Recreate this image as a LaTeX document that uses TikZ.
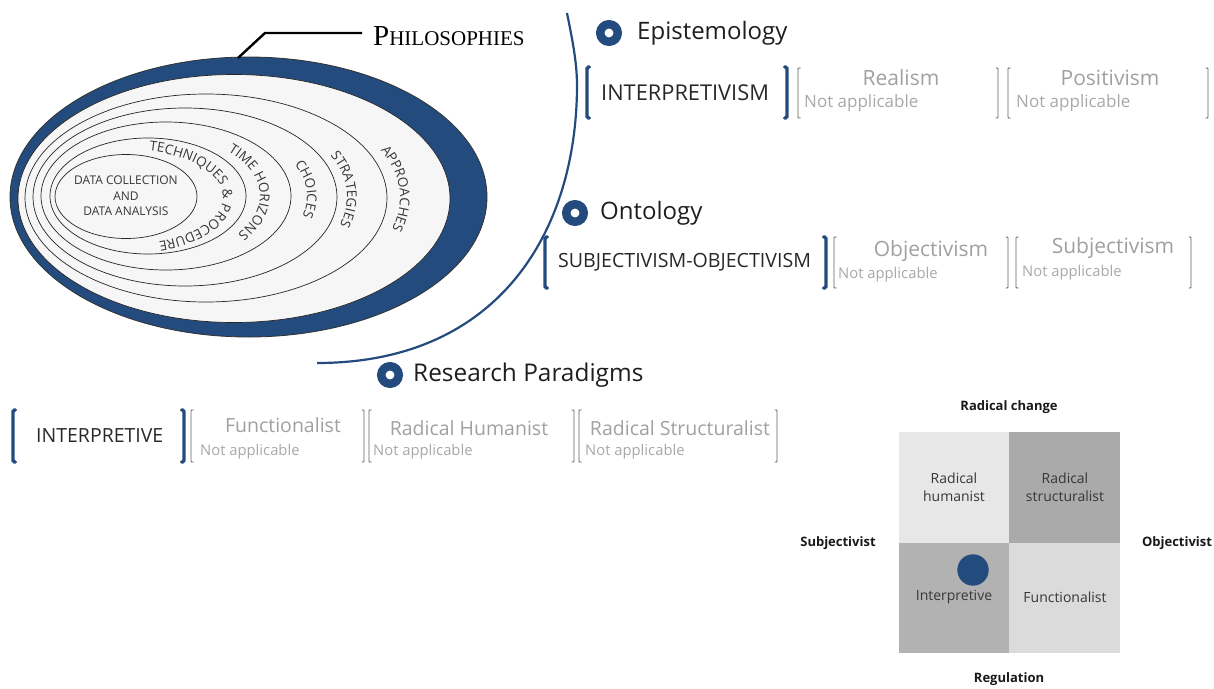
\documentclass[tikz,border=0pt]{standalone}
\usepackage{fontspec}
\setmainfont{Open Sans}
\newfontfamily\capsfont{Liberation Serif}
\usetikzlibrary{decorations.text}

\definecolor{onionblue}{RGB}{35,75,125}
\definecolor{ringfill}{RGB}{246,246,246}
\definecolor{ringtext}{RGB}{55,55,55}
\definecolor{headink}{RGB}{30,30,30}
\definecolor{inktext}{RGB}{40,40,40}
\definecolor{optgray}{RGB}{160,160,160}
\definecolor{nagray}{RGB}{168,168,168}
\definecolor{brkgray}{RGB}{95,95,95}
\definecolor{qtl}{RGB}{231,231,231}
\definecolor{qtr}{RGB}{170,170,170}
\definecolor{qbl}{RGB}{178,178,178}
\definecolor{qbr}{RGB}{219,219,219}
\definecolor{celltext}{RGB}{55,55,55}

\newcommand\sz[1]{\fontsize{#1}{#1}\selectfont}

% left / right square brackets: style, x, top, bottom
\newcommand\openbrk[4]{\draw[#1] (#2+2.5,#3) -- (#2,#3) -- (#2,#4) -- (#2+2.5,#4);}
\newcommand\closebrk[4]{\draw[#1] (#2-2.5,#3) -- (#2,#3) -- (#2,#4) -- (#2-2.5,#4);}

\tikzset{
  ringline/.style={draw=black!85, line width=0.7pt},
  ringlabel/.style={decorate, decoration={text along path, text align=center, text color=ringtext}},
  heading/.style={anchor=west, inner sep=0pt, text=headink, font=\sz{24}},
  bullet/.style={circle, draw=onionblue, fill=white, line width=8.5pt, minimum size=17.5pt, inner sep=0pt},
  chosen/.style={anchor=west, inner sep=0pt, text=inktext},
  option/.style={inner sep=0pt, text=optgray},
  na/.style={anchor=west, inner sep=0pt, text=nagray},
  bluebrk/.style={draw=onionblue, line width=3.4pt, line cap=round, rounded corners=1.5pt},
  graybrk/.style={draw=brkgray, line width=0.9pt, rounded corners=0.8pt},
  cell/.style={inner sep=0pt, text=celltext, align=center, font=\fontsize{14}{18}\selectfont},
  axislabel/.style={inner sep=0pt, text=black!90, font=\bfseries\sz{13}},
}

\begin{document}
\begin{tikzpicture}[x=1pt,y=-1pt]
\useasboundingbox (0,0) rectangle (1214,688);

% ---------- the onion ----------
\filldraw[fill=onionblue, draw=black!80, line width=0.8pt] (248.5,197) ellipse [x radius=238.5, y radius=140];
\filldraw[fill=ringfill, ringline] (234,198.5) ellipse [x radius=216, y radius=124];
\draw[ringline] (206,198) ellipse [x radius=181, y radius=104];
\draw[ringline] (185,197) ellipse [x radius=152, y radius=89];
\draw[ringline] (166,196) ellipse [x radius=125, y radius=74];
\draw[ringline] (148,196) ellipse [x radius=98, y radius=58];
\draw[ringline] (126,196.5) ellipse [x radius=71, y radius=42];

\node[align=center, inner sep=0pt, text=ringtext, font=\fontsize{12}{15.5}\selectfont] (core) at (126,196)
  {DATA COLLECTION\\AND\\DATA ANALYSIS};

\path[ringlabel, decoration={text={|\sz{13.5}|TECHNIQUES {\&} PROCEDURE}}]
  (125.1,150.1) arc[start angle=-93, end angle=87, x radius=93, y radius=47];
\path[ringlabel, decoration={text={|\sz{13.5}|TIME HORIZONS}}]
  (144.2,133.1) arc[start angle=-93, end angle=87, x radius=110, y radius=63];
\path[ringlabel, decoration={text={|\sz{13.5}|CHOICES}}]
  (160.7,118.6) arc[start angle=-93, end angle=87, x radius=139, y radius=78];
\path[ringlabel, decoration={text={|\sz{13.5}|STRATEGIES}}]
  (181.8,104.1) arc[start angle=-93, end angle=87, x radius=157, y radius=93];
\path[ringlabel, decoration={text={|\sz{13.5}|APPROACHES}}]
  (200.1,90.2) arc[start angle=-93, end angle=87, x radius=190, y radius=108];

% ---------- title with leader ----------
\node[anchor=base west, inner sep=0pt, font=\capsfont, text=black] (phil) at (373,45)
  {{\sz{29}P}{\sz{21}HILOSOPHIES}};
\coordinate (leadstart) at (362,33);
\coordinate (knee) at (265,33);
\coordinate (tip) at (238,58);
\draw[line width=2.4pt] (leadstart) -- (knee) -- (tip);

% ---------- dividing arc ----------
\draw[onionblue, line width=2.2pt]
  (567,13) .. controls (572,38) and (577,62) .. (577,85)
  .. controls (577,230) and (500,363) .. (317,363);

% ---------- Epistemology ----------
\node[bullet] (b1) at (609,33) {};
\node[heading] (epi) at (637,33) {Epistemology};
\openbrk{bluebrk}{587}{67}{118}
\node[chosen, font=\sz{21.8}] (epiA) at (601,93) {INTERPRETIVISM};
\closebrk{bluebrk}{787}{67}{118}
\openbrk{graybrk}{798}{68}{118}
\node[option, font=\sz{21}] (epiB) at (901,78) {Realism};
\node[na, font=\sz{17}] (epiBn) at (804,103) {Not applicable};
\closebrk{graybrk}{998}{68}{118}
\openbrk{graybrk}{1008}{68}{118}
\node[option, font=\sz{21}] (epiC) at (1110,78) {Positivism};
\node[na, font=\sz{17}] (epiCn) at (1016,103) {Not applicable};
\closebrk{graybrk}{1208}{68}{118}

% ---------- Ontology ----------
\node[bullet] (b2) at (575,213) {};
\node[heading] (ont) at (600,213) {Ontology};
\openbrk{bluebrk}{545}{237}{288}
\node[chosen, font=\sz{19.6}] (ontA) at (558,262) {SUBJECTIVISM-OBJECTIVISM};
\closebrk{bluebrk}{826}{237}{288}
\openbrk{graybrk}{834}{237}{288}
\node[option, font=\sz{21}] (ontB) at (931,251) {Objectivism};
\node[na, font=\sz{14.8}] (ontBn) at (838,275) {Not applicable};
\closebrk{graybrk}{1008}{237}{288}
\openbrk{graybrk}{1016}{237}{288}
\node[option, font=\sz{21}] (ontC) at (1113,248) {Subjectivism};
\node[na, font=\sz{14.8}] (ontCn) at (1022,273) {Not applicable};
\closebrk{graybrk}{1191}{237}{288}

% ---------- Research Paradigms ----------
\node[bullet] (b3) at (390,375) {};
\node[heading, font=\sz{24.4}] (par) at (413,375) {Research Paradigms};
\openbrk{bluebrk}{13}{410}{462}
\node[chosen, font=\sz{19.5}] (parA) at (36,436) {INTERPRETIVE};
\closebrk{bluebrk}{184}{410}{462}
\openbrk{graybrk}{191}{410}{462}
\node[option, font=\sz{19.5}] (parB) at (283,425) {Functionalist};
\node[na, font=\sz{14.8}] (parBn) at (200,452) {Not applicable};
\closebrk{graybrk}{364}{410}{462}
\openbrk{graybrk}{369}{410}{462}
\node[option, font=\sz{19.5}] (parC) at (469,428) {Radical Humanist};
\node[na, font=\sz{14.8}] (parCn) at (373,452) {Not applicable};
\closebrk{graybrk}{574}{410}{462}
\openbrk{graybrk}{579}{410}{462}
\node[option, font=\sz{19.5}] (parD) at (680,428) {Radical Structuralist};
\node[na, font=\sz{14.8}] (parDn) at (585,452) {Not applicable};
\closebrk{graybrk}{777}{410}{462}

% ---------- Burrell and Morgan grid ----------
\fill[qtl] (899,432) rectangle (1009,543);
\fill[qtr] (1009,432) rectangle (1120,543);
\fill[qbl] (899,543) rectangle (1009,653);
\fill[qbr] (1009,543) rectangle (1120,653);
\node[cell] (rh) at (954,487) {Radical\\humanist};
\node[cell] (rs) at (1065,487) {Radical\\structuralist};
\node[cell] (ip) at (954,597) {Interpretive};
\node[cell] (fn) at (1065,597) {Functionalist};
\node[circle, fill=onionblue, minimum size=31.4pt, inner sep=0pt] (here) at (973,570) {};
\node[axislabel] (top) at (1009,407) {Radical change};
\node[axislabel] (bottom) at (1009,679) {Regulation};
\node[axislabel] (left) at (838,543) {Subjectivist};
\node[axislabel] (right) at (1177,543) {Objectivist};
\end{tikzpicture}
\end{document}
